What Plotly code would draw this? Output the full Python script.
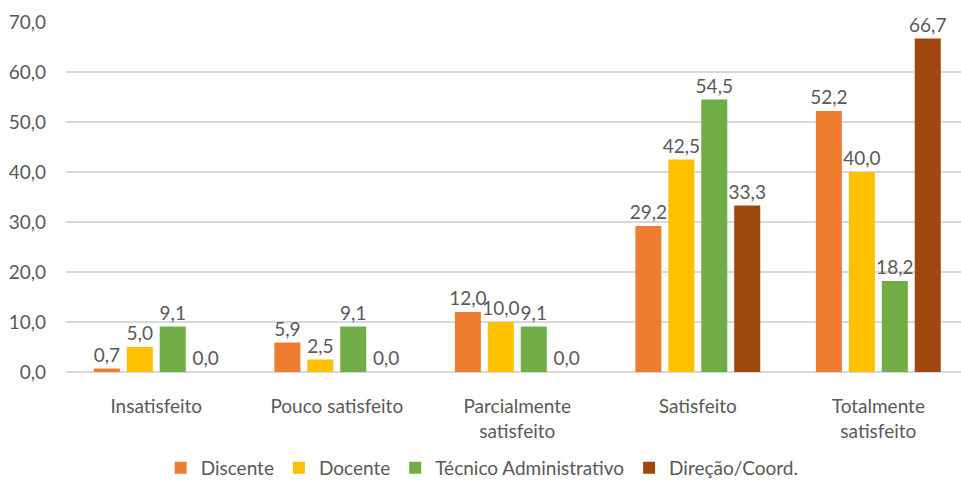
import plotly.graph_objects as go

categories = ["Insatisfeito", "Pouco satisfeito", "Parcialmente<br>satisfeito", "Satisfeito", "Totalmente<br>satisfeito"]
discente = [0.7, 5.9, 12.0, 29.2, 52.2]
docente = [5.0, 2.5, 10.0, 42.5, 40.0]
tecnico = [9.1, 9.1, 9.1, 54.5, 18.2]
direcao = [0.0, 0.0, 0.0, 33.3, 66.7]
series_names = ["Discente", "Docente", "Técnico Administrativo", "Direção/Coord."]
colors = ["#ED7D31", "#FFC000", "#70AD47", "#9E480E"]
y_ticks = [0, 10, 20, 30, 40, 50, 60, 70]

FONT = "Lato, Calibri, sans-serif"
GRAY = "#595959"

fig = go.Figure()
for name, vals, col in zip(series_names, [discente, docente, tecnico, direcao], colors):
    fig.add_trace(go.Bar(
        x=categories, y=vals, name=name,
        marker=dict(color=col, line=dict(width=0)),
        text=vals, texttemplate="%{y:.1f}", textposition="outside",
        textfont=dict(family=FONT, size=19, color=GRAY),
        constraintext="none",
        cliponaxis=False,
    ))

fig.update_layout(
    width=961, height=487,
    separators=",.",
    barmode="group", bargap=0.27, bargroupgap=0.21,
    plot_bgcolor="white", paper_bgcolor="white",
    margin=dict(l=66, r=0, t=22, b=111),
    font=dict(family=FONT, size=19, color=GRAY),
    legend=dict(orientation="h", x=0.465, xanchor="center", y=-0.274, yanchor="middle",
                font=dict(family=FONT, size=19, color=GRAY), traceorder="normal",
                itemwidth=30),
    xaxis=dict(showgrid=False, showline=False, ticks="", automargin=False,
               range=[-0.5, 4.458],
               ticklabelstandoff=21, tickfont=dict(size=19, color=GRAY)),
    yaxis=dict(range=[0, 70], tickvals=y_ticks, tickformat=".1f", showgrid=True,
               gridcolor="#D9D9D9", gridwidth=2, zeroline=True, zerolinecolor="#D9D9D9",
               zerolinewidth=2, showline=False, ticks="", ticklabelstandoff=19,
               automargin=False, tickfont=dict(size=19, color=GRAY)),
)

fig.write_html("out.html", config={"displayModeBar": False},
               post_script="document.body.style.margin='0';document.body.style.overflow='hidden';")
